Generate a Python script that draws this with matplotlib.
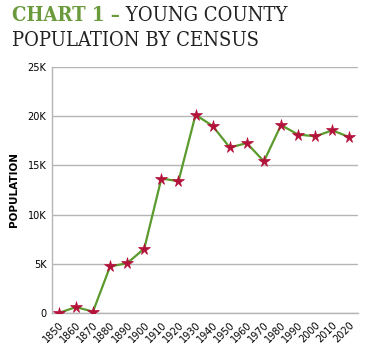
import matplotlib
matplotlib.use("Agg")
import matplotlib.pyplot as plt
import matplotlib.text as mtext
from matplotlib.ticker import FuncFormatter

years = [1850, 1860, 1870, 1880, 1890, 1900, 1910, 1920, 1930, 1940, 1950,
         1960, 1970, 1980, 1990, 2000, 2010, 2020]
population = [0, 592, 135, 4726, 5049, 6540, 13657, 13379, 20128, 19004,
              16810, 17254, 15400, 19083, 18126, 17943, 18550, 17867]
yticks = [0, 5000, 10000, 15000, 20000, 25000]

fig = plt.figure(figsize=(3.74, 3.52), dpi=100)
ax = fig.add_axes([0.139, 0.111, 0.818, 0.699])
ax.plot(years, population, color="#5b9a2c", lw=1.6, zorder=2)
ax.plot(years, population, ls="none", marker="*", ms=8.5, color="#b3123b",
        markeredgecolor="#b3123b", markeredgewidth=0.5, zorder=3)
ax.set_ylim(0, 25000)
ax.set_xlim(1846, 2025)
ax.set_yticks(yticks)
ax.yaxis.set_major_formatter(FuncFormatter(lambda v, p: "0" if v == 0 else f"{int(v/1000)}K"))
ax.set_xticks(years)
ax.set_xticklabels([str(y) for y in years], rotation=45, ha="right",
                   rotation_mode="anchor", fontsize=7)
ax.tick_params(axis="y", labelsize=7, length=0, pad=4)
ax.tick_params(axis="x", length=0, pad=5)
ax.grid(axis="y", color="#b5b5b5", lw=1)
ax.set_axisbelow(True)
for s in ["top", "right"]:
    ax.spines[s].set_visible(False)
for s in ["left", "bottom"]:
    ax.spines[s].set_color("#b5b5b5")
    ax.spines[s].set_linewidth(1)
ax.set_ylabel("POPULATION", fontsize=7.5, fontweight="bold", labelpad=6)

tkw = dict(fontsize=14.5, family="DejaVu Serif", fontstretch="condensed")
t1 = fig.text(12/374, 1 - 21/352, "CHART 1 –", fontweight="bold",
              color="#6a9a3c", va="baseline", **tkw)
fig.add_artist(mtext.Annotation(
    " YOUNG COUNTY", xy=(1, 0), xycoords=t1, va="bottom", ha="left",
    color="#222222", **tkw))
fig.text(12/374, 1 - 46/352, "POPULATION BY CENSUS",
         color="#222222", va="baseline", **tkw)

fig.savefig("out.png", dpi=100)
